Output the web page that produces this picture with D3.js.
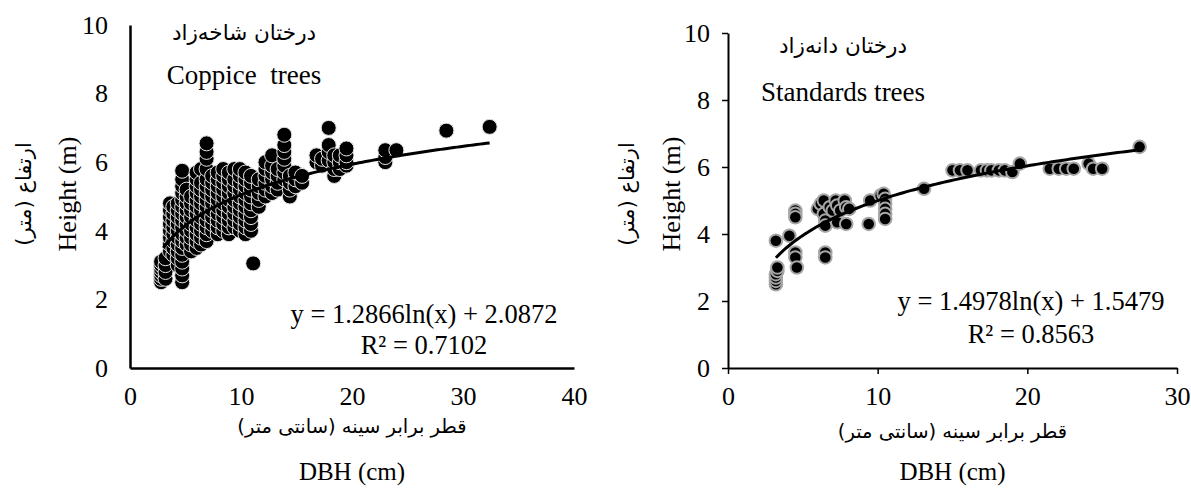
<!DOCTYPE html>
<html><head><meta charset="utf-8">
<script src="https://cdn.jsdelivr.net/npm/d3@7/dist/d3.min.js"></script>
<style>
body{margin:0;background:#fff}
svg{display:block}
</style>
</head><body>
<svg id="chart" width="1191" height="490"></svg>
<script>
// ---------- data ----------
// Coppice trees: DBH columns and the heights read in each column
const coppiceDBH = [2.8,3.2,3.6,3.9,4.3,4.7,5.1,5.5,6.0,6.4,6.9,7.4,7.9,8.4,8.9,9.4,9.9,10.4,10.9,11.1,11.6,12.2,12.8,13.3,13.9,14.4,14.9,15.5,16.8,17.3,17.9,18.4,18.9,19.5,23.0,24.0,28.5,32.4];
const coppiceHeights = [
  [2.5,2.6,2.7,2.8,2.9,3.0,3.1],
  [2.6,2.8,3.0,3.2],
  [3.4,3.6,3.8,4.0,4.2,4.4,4.6,4.8],
  [3.3,3.5,3.7,3.9,4.1,4.3,4.5,4.7],
  [3.0,3.2,3.4,3.6,3.8,4.0,4.2,4.4,4.6,4.8],
  [2.5,2.7,2.9,3.1,3.3,3.5,3.7,3.9,4.1,4.3,4.5,4.7,4.9,5.1,5.3,5.5,5.75],
  [3.6,3.8,4.0,4.2,4.4,4.6,4.8,5.0,5.2],
  [3.4,3.6,3.8,4.0,4.2,4.4,4.6,4.8,5.0],
  [3.5,3.7,3.9,4.1,4.3,4.5,4.7,4.9,5.1,5.3,5.5,5.7],
  [3.6,3.8,4.0,4.2,4.4,4.6,4.8,5.0,5.2,5.4,5.8],
  [3.7,3.9,4.1,4.3,4.5,4.7,4.9,5.1,5.3,5.5,5.8,6.1,6.3,6.55],
  [4.0,4.2,4.4,4.6,4.8,5.0,5.2,5.4,5.6],
  [3.9,4.1,4.3,4.5,4.7,4.9,5.1,5.3,5.5,5.7],
  [4.0,4.2,4.4,4.6,4.8,5.0,5.2,5.4,5.6,5.8],
  [3.9,4.1,4.3,4.5,4.7,4.9,5.1,5.3,5.5,5.7],
  [4.1,4.3,4.5,4.7,4.9,5.1,5.3,5.5,5.8],
  [4.0,4.2,4.4,4.6,4.8,5.0,5.2,5.4,5.6,5.8],
  [3.9,4.1,4.3,4.5,4.7,4.9,5.1,5.3,5.5,5.7],
  [4.0,4.2,4.4,4.6,4.8,5.0,5.2,5.4,5.6],
  [3.05],
  [4.7,4.9,5.1,5.3,5.5],
  [5.0,5.2,5.4,5.6,5.8,6.0],
  [5.1,5.3,5.5,5.7,5.9,6.2],
  [5.2,5.4,5.6,5.8],
  [5.5,5.7,5.9,6.1,6.3,6.5,6.8],
  [5.0,5.2,5.4,5.6],
  [5.3,5.5,5.7],
  [5.4,5.6],
  [6.0,6.2],
  [5.9,6.1],
  [6.05,6.3,6.5,7.0],
  [5.6,5.8,6.0,6.2],
  [5.8,6.0,6.2],
  [5.9,6.0,6.2,6.4],
  [6.0,6.15,6.35],
  [6.35],
  [6.92],
  [7.03]
];
// Standards trees
const standardDBH =    [3.2,3.2,3.2,3.2,3.3,3.3,3.2,4.1,4.5,4.5,4.5,4.5,4.5,4.6,6.0,6.2,6.4,6.4,6.5,6.5,6.5,6.5,6.8,7.0,7.2,7.3,7.5,7.3,7.8,7.9,7.9,8.1,9.4,9.5,10.2,10.4,10.5,10.5,10.5,10.5,10.5,13.1,15.0,15.5,16.0,16.9,17.3,17.6,18.1,18.5,19.0,19.5,21.5,22.1,22.6,23.1,24.1,24.4,25.0,27.5];
const standardHeight = [2.5,2.6,2.7,2.8,2.9,3.0,3.8,3.95,4.7,4.6,4.5,3.45,3.3,3.0,4.75,4.9,5.0,4.6,4.4,4.25,3.45,3.3,4.8,4.7,5.0,4.85,4.7,4.35,5.0,4.8,4.3,4.75,4.3,5.0,5.15,5.2,5.05,4.9,4.75,4.6,4.45,5.35,5.9,5.9,5.9,5.9,5.9,5.9,5.9,5.9,5.85,6.1,5.95,5.95,5.95,5.95,6.1,5.95,5.95,6.6];
const yTicks = [0,2,4,6,8,10];
const coppiceXTicks = [0,10,20,30,40];
const standardXTicks = [0,10,20,30];
const coppiceFit = [1.2866, 2.0872];
const standardFit = [1.4978, 1.5479];
const coppiceLabels = ["درختان شاخه‌زاد","Coppice  trees","y = 1.2866ln(x) + 2.0872","R² = 0.7102"];
const standardLabels = ["درختان دانه‌زاد","Standards trees","y = 1.4978ln(x) + 1.5479","R² = 0.8563"];
const yTitleEn = "Height (m)", yTitleFa = "ارتفاع (متر)";
const xTitleEn = "DBH (cm)", xTitleFa = "قطر برابر سینه (سانتی متر)";

// ---------- drawing ----------
const SERIF = '"Liberation Serif","Times New Roman",serif';
const FA = '"DejaVu Sans","Liberation Serif",sans-serif';
const svg = d3.select("#chart");

function txt(g, s, size, fa){
  return g.append("text").text(s)
    .style("font-family", fa ? FA : SERIF)
    .style("font-size", size + "px")
    .style("fill", "#000")
    .style("white-space", "pre")
    .attr("text-anchor", "middle")
    .attr("direction", fa ? "rtl" : "ltr");
}

function panel(cfg){
  const g = svg.append("g");
  const x = d3.scaleLinear().domain([0, cfg.xMax]).range([cfg.x0, cfg.x1]);
  const y = d3.scaleLinear().domain([0, 10]).range([cfg.y0, cfg.y1]);

  const pts = cfg.points;
  g.append("g").selectAll("circle").data(pts).join("circle")
    .attr("cx", d => x(d[0])).attr("cy", d => y(d[1]))
    .attr("r", cfg.r).attr("fill", "#000")
    .attr("stroke", cfg.stroke).attr("stroke-width", cfg.sw);

  const xs = pts.map(d => d[0]);
  const lo = Math.max(3, d3.min(xs)), hi = d3.max(xs);
  const curve = d3.range(0, 101).map(i => {
    const v = lo + (hi - lo) * i / 100;
    return [v, cfg.fit[0] * Math.log(v) + cfg.fit[1]];
  });
  g.append("path").datum(curve)
    .attr("d", d3.line().x(d => x(d[0])).y(d => y(d[1])))
    .attr("fill", "none").attr("stroke", "#000").attr("stroke-width", 3);

  const ax = g.append("g").attr("transform", `translate(0,${cfg.y0})`)
    .call(d3.axisBottom(x).tickValues(cfg.xTicks).tickSizeInner(cfg.tick).tickSizeOuter(0).tickPadding(cfg.tick ? 13 : 19).tickFormat(d3.format("d")));
  const ay = g.append("g").attr("transform", `translate(${cfg.x0},0)`)
    .call(d3.axisLeft(y).tickValues(yTicks).tickSizeInner(cfg.tick).tickSizeOuter(0).tickPadding(cfg.tick ? 12 : 22).tickFormat(d3.format("d")));
  [ax, ay].forEach(a => {
    a.select(".domain").attr("stroke", "#000").attr("stroke-width", cfg.aw);
    a.selectAll(".tick line").attr("stroke", "#000").attr("stroke-width", 1.5);
    a.selectAll(".tick text").style("font-family", SERIF).style("font-size", "26px").style("fill", "#000");
  });

  const L = cfg.labels;
  txt(g, L[0], 21.5, true).attr("x", cfg.titleX).attr("y", cfg.faTitleY);
  txt(g, L[1], 27, false).attr("x", cfg.titleX).attr("y", cfg.enTitleY);
  txt(g, L[2], 26.5, false).attr("x", cfg.eqX).attr("y", cfg.eqY);
  txt(g, L[3], 26.5, false).attr("x", cfg.eqX).attr("y", cfg.r2Y);

  txt(g, yTitleEn, 26, false).attr("transform", `translate(${cfg.yEnX},${cfg.yMid}) rotate(-90)`);
  txt(g, yTitleFa, 21, true).attr("transform", `translate(${cfg.yFaX},${cfg.yMid}) rotate(-90)`);

  const midX = (cfg.x0 + cfg.x1) / 2;
  txt(g, xTitleFa, 19.5, true).attr("x", midX).attr("y", cfg.xFaY);
  txt(g, xTitleEn, 25, false).attr("x", midX).attr("y", 480);
}

const coppicePoints = coppiceDBH.flatMap((d, i) => coppiceHeights[i].map(h => [d, h]));
const standardPoints = standardDBH.map((d, i) => [d, standardHeight[i]]);

panel({points: coppicePoints, xMax: 40, xTicks: coppiceXTicks, fit: coppiceFit, labels: coppiceLabels,
  x0: 130, x1: 574, y0: 368, y1: 25, r: 7.5, stroke: "#e6e6e6", sw: 1, tick: 0, aw: 2.5,
  titleX: 244, faTitleY: 40, enTitleY: 84, eqX: 424, eqY: 323, r2Y: 354,
  yEnX: 76, yFaX: 31, yMid: 194, xFaY: 433});
panel({points: standardPoints, xMax: 30, xTicks: standardXTicks, fit: standardFit, labels: standardLabels,
  x0: 728, x1: 1177, y0: 368, y1: 33, r: 6.3, stroke: "#a6a6a6", sw: 2, tick: 6, aw: 2,
  titleX: 843, faTitleY: 53, enTitleY: 101, eqX: 1031, eqY: 310, r2Y: 343,
  yEnX: 680, yFaX: 634, yMid: 194, xFaY: 438});
</script>
</body></html>
